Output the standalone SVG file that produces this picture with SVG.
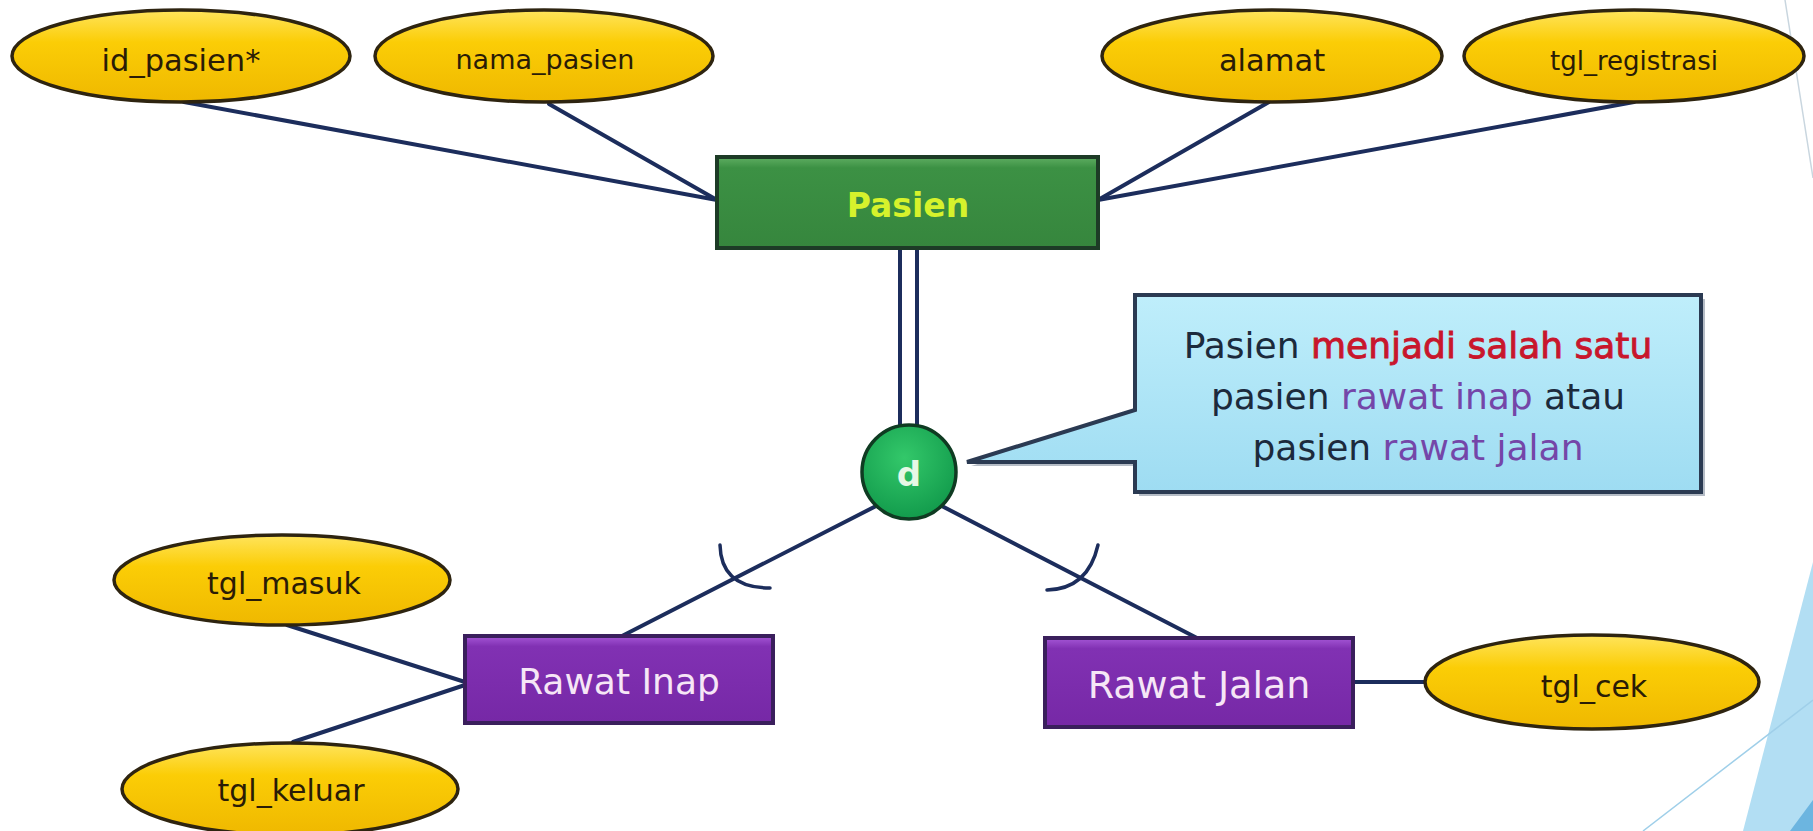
<svg xmlns="http://www.w3.org/2000/svg" width="1813" height="831" viewBox="0 0 1813 831">
  <defs>
    <linearGradient id="gold" x1="0" y1="0" x2="0" y2="1">
      <stop offset="0" stop-color="#ffe45c"/>
      <stop offset="0.35" stop-color="#fbcd06"/>
      <stop offset="1" stop-color="#efb800"/>
    </linearGradient>
    <linearGradient id="green" x1="0" y1="0" x2="0" y2="1">
      <stop offset="0" stop-color="#5fae62"/>
      <stop offset="0.12" stop-color="#3c9144"/>
      <stop offset="1" stop-color="#36863d"/>
    </linearGradient>
    <linearGradient id="purple" x1="0" y1="0" x2="0" y2="1">
      <stop offset="0" stop-color="#a556d6"/>
      <stop offset="0.12" stop-color="#8131b3"/>
      <stop offset="1" stop-color="#7628a6"/>
    </linearGradient>
    <radialGradient id="disc" cx="0.45" cy="0.35" r="0.7">
      <stop offset="0" stop-color="#33c86a"/>
      <stop offset="1" stop-color="#10984a"/>
    </radialGradient>
    <linearGradient id="note" x1="0" y1="0" x2="0" y2="1">
      <stop offset="0" stop-color="#bfeefb"/>
      <stop offset="1" stop-color="#9edcf2"/>
    </linearGradient>
    <style>
      .link { stroke: #1c2d5c; stroke-width: 4; fill: none; stroke-linecap: round; }
      .arc { stroke: #1c2d5c; stroke-width: 3.5; fill: none; stroke-linecap: round; }
      .attr ellipse { fill: url(#gold); stroke: #2e2410; stroke-width: 3.5; }
      .attr text { font-family: "DejaVu Sans", Verdana, sans-serif; fill: #2a1c06; text-anchor: middle; }
      .entity text { font-family: "DejaVu Sans", Verdana, sans-serif; text-anchor: middle; }
      .note text { font-family: "DejaVu Sans", Verdana, sans-serif; font-size: 36px; fill: #1c2a3c; text-anchor: middle; }
      .red { fill: #c8162c; stroke: #c8162c; stroke-width: 0.9; }
      .violet { fill: #7446a8; }
    </style>
  </defs>

  <rect width="1813" height="831" fill="#ffffff"/>

  <!-- slide decoration at the right edge -->
  <g id="decoration">
    <line x1="1785" y1="0" x2="1813" y2="178" stroke="#c9d6df" stroke-width="1.5"/>
    <polygon points="1813,562 1813,831 1743,831" fill="#b2def3"/>
    <line x1="1813" y1="700" x2="1643" y2="831" stroke="#9fcfe9" stroke-width="1.5"/>
    <polygon points="1813,800 1813,831 1790,831" fill="#6cb5e0"/>
  </g>

  <!-- connectors -->
  <g id="connectors">
    <line class="link" x1="184" y1="102" x2="717" y2="200"/>
    <line class="link" x1="549" y1="104" x2="717" y2="200"/>
    <line class="link" x1="1269" y1="102" x2="1098" y2="200"/>
    <line class="link" x1="1634" y1="102" x2="1098" y2="200"/>
    <line class="link" x1="900" y1="248" x2="900" y2="440"/>
    <line class="link" x1="917" y1="248" x2="917" y2="440"/>
    <line class="link" x1="880" y1="504" x2="622" y2="636"/>
    <line class="link" x1="936" y1="503" x2="1197" y2="638"/>
    <line class="link" x1="287" y1="625" x2="465" y2="682"/>
    <line class="link" x1="293" y1="742" x2="465" y2="685"/>
    <line class="link" x1="1353" y1="682" x2="1425" y2="682"/>
    <path class="arc" d="M720 545 Q721 588 770 588"/>
    <path class="arc" d="M1098 545 Q1088 589 1047 590"/>
  </g>

  <g id="attr-id-pasien" class="attr">
    <ellipse cx="181" cy="56" rx="169" ry="46"/>
    <text x="181" y="71" font-size="30.5">id_pasien*</text>
  </g>
  <g id="attr-nama-pasien" class="attr">
    <ellipse cx="544" cy="56" rx="169" ry="46"/>
    <text x="545" y="69" font-size="27">nama_pasien</text>
  </g>
  <g id="attr-alamat" class="attr">
    <ellipse cx="1272" cy="56" rx="170" ry="46"/>
    <text x="1272" y="71" font-size="30.5">alamat</text>
  </g>
  <g id="attr-tgl-registrasi" class="attr">
    <ellipse cx="1634" cy="56" rx="170" ry="46"/>
    <text x="1634" y="70" font-size="26">tgl_registrasi</text>
  </g>

  <g id="entity-pasien" class="entity">
    <rect x="717" y="157" width="381" height="91" fill="url(#green)" stroke="#1d3b26" stroke-width="4"/>
    <text x="908" y="217" font-size="33" font-weight="bold" fill="#d6f22c">Pasien</text>
  </g>

  <g id="disjoint">
    <circle cx="909" cy="472" r="47" fill="url(#disc)" stroke="#0f3b22" stroke-width="3.5"/>
    <text x="909" y="486" font-family="DejaVu Sans, Verdana, sans-serif" font-size="34" font-weight="bold" fill="#e6f8e6" text-anchor="middle">d</text>
  </g>

  <g id="note" class="note">
    <path d="M1139 299 H1705 V496 H1139 V466 H971 L1139 414 Z" fill="#5a6a80" opacity="0.45"/>
    <path d="M1135 295 H1701 V492 H1135 V462 H967 L1135 410 Z" fill="url(#note)" stroke="#2b3a52" stroke-width="4" stroke-linejoin="miter"/>
    <text x="1418" y="358">Pasien <tspan class="red">menjadi salah satu</tspan></text>
    <text x="1418" y="409">pasien <tspan class="violet">rawat inap</tspan> atau</text>
    <text x="1418" y="460">pasien <tspan class="violet">rawat jalan</tspan></text>
  </g>

  <g id="entity-rawat-inap" class="entity">
    <rect x="465" y="636" width="308" height="87" fill="url(#purple)" stroke="#3a1f5c" stroke-width="4"/>
    <text x="619" y="694" font-size="36" fill="#f6e6f6">Rawat Inap</text>
  </g>

  <g id="entity-rawat-jalan" class="entity">
    <rect x="1045" y="638" width="308" height="89" fill="url(#purple)" stroke="#3a1f5c" stroke-width="4"/>
    <text x="1199" y="698" font-size="38" fill="#f6e6f6">Rawat Jalan</text>
  </g>

  <g id="attr-tgl-masuk" class="attr">
    <ellipse cx="282" cy="580" rx="168" ry="45"/>
    <text x="284" y="594" font-size="30">tgl_masuk</text>
  </g>
  <g id="attr-tgl-keluar" class="attr">
    <ellipse cx="290" cy="789" rx="168" ry="46"/>
    <text x="291" y="801" font-size="30">tgl_keluar</text>
  </g>
  <g id="attr-tgl-cek" class="attr">
    <ellipse cx="1592" cy="682" rx="167" ry="47"/>
    <text x="1594" y="697" font-size="30">tgl_cek</text>
  </g>
</svg>
